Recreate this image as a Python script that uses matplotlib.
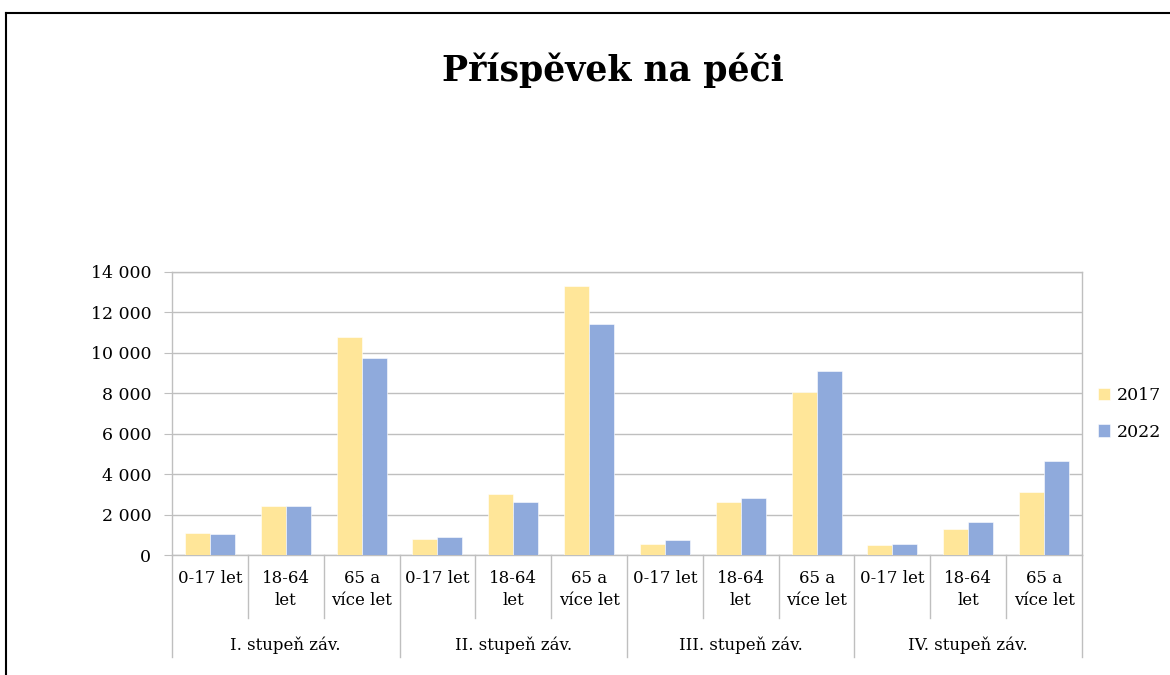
import matplotlib
matplotlib.use('Agg')
import matplotlib.pyplot as plt
from matplotlib.lines import Line2D
from matplotlib import transforms
import numpy as np

# data
groups = ['I. stupeň záv.', 'II. stupeň záv.', 'III. stupeň záv.', 'IV. stupeň záv.']
ages = ['0-17 let', '18-64\nlet', '65 a\nvíce let']
series = ['2017', '2022']
v2017 = [1090, 2430, 10790, 790, 3020, 13330, 545, 2610, 8040, 480, 1290, 3120]
v2022 = [1060, 2410, 9740, 890, 2610, 11440, 740, 2800, 9090, 560, 1620, 4640]
yticks = [0, 2000, 4000, 6000, 8000, 10000, 12000, 14000]

plt.rcParams['font.family'] = ['DejaVu Serif']

fig = plt.figure(figsize=(11.7, 6.75), dpi=100)
W, H = 1170.0, 675.0
ax = fig.add_axes([172 / W, 1 - 555 / H, 910 / W, 283 / H])

x = np.arange(len(v2017))
bw = 0.33
b1 = ax.bar(x - bw / 2, v2017, bw, color='#FFE699', edgecolor='white', linewidth=0.4, zorder=3, label=series[0])
b2 = ax.bar(x + bw / 2, v2022, bw, color='#8FAADC', edgecolor='white', linewidth=0.4, zorder=3, label=series[1])

ax.set_xlim(-0.5, len(x) - 0.5)
ax.set_ylim(0, 14000)
ax.set_yticks(yticks)
ax.set_yticklabels(['{:,}'.format(v).replace(',', ' ') for v in yticks], fontsize=12.5)
ax.yaxis.grid(True, color='#BFBFBF', linewidth=1, zorder=0)
ax.tick_params(axis='y', length=6, color='#BFBFBF', pad=9)
ax.set_xticks([])
for s in ax.spines.values():
    s.set_color('#BFBFBF')
    s.set_linewidth(1)

# category labels below the axis
tr = transforms.blended_transform_factory(ax.transData, fig.transFigure)
gray = '#BFBFBF'
for i in range(len(x)):
    ax.text(x[i], 1 - 570 / H, ages[i % 3], transform=tr, ha='center', va='top',
            fontsize=12, linespacing=1.35)
for i in range(len(x) + 1):
    xb = i - 0.5
    low = 657 if i % 3 == 0 else 618
    fig.add_artist(Line2D([xb, xb], [1 - 555 / H, 1 - low / H], transform=tr, color=gray, lw=1))
for g, name in enumerate(groups):
    ax.text(g * 3 + 1, 1 - 645 / H, name, transform=tr, ha='center', va='center', fontsize=12)

fig.text(613 / W, 1 - 70 / H, 'Příspěvek na péči', ha='center', va='center',
         fontsize=25, fontweight='bold')

fig.legend(handles=[b1, b2], loc='center left', bbox_to_anchor=(1082 / W, 1 - 414 / H),
           frameon=False, fontsize=12.5, handlelength=0.7, handleheight=0.7,
           handletextpad=0.4, labelspacing=1.1)

# outer frame (left and top)
fig.add_artist(Line2D([6 / W, 6 / W], [0, 1 - 13 / H], transform=fig.transFigure, color='black', lw=1.5))
fig.add_artist(Line2D([6 / W, 1], [1 - 13 / H, 1 - 13 / H], transform=fig.transFigure, color='black', lw=1.5))

fig.savefig('out.png', dpi=100)
